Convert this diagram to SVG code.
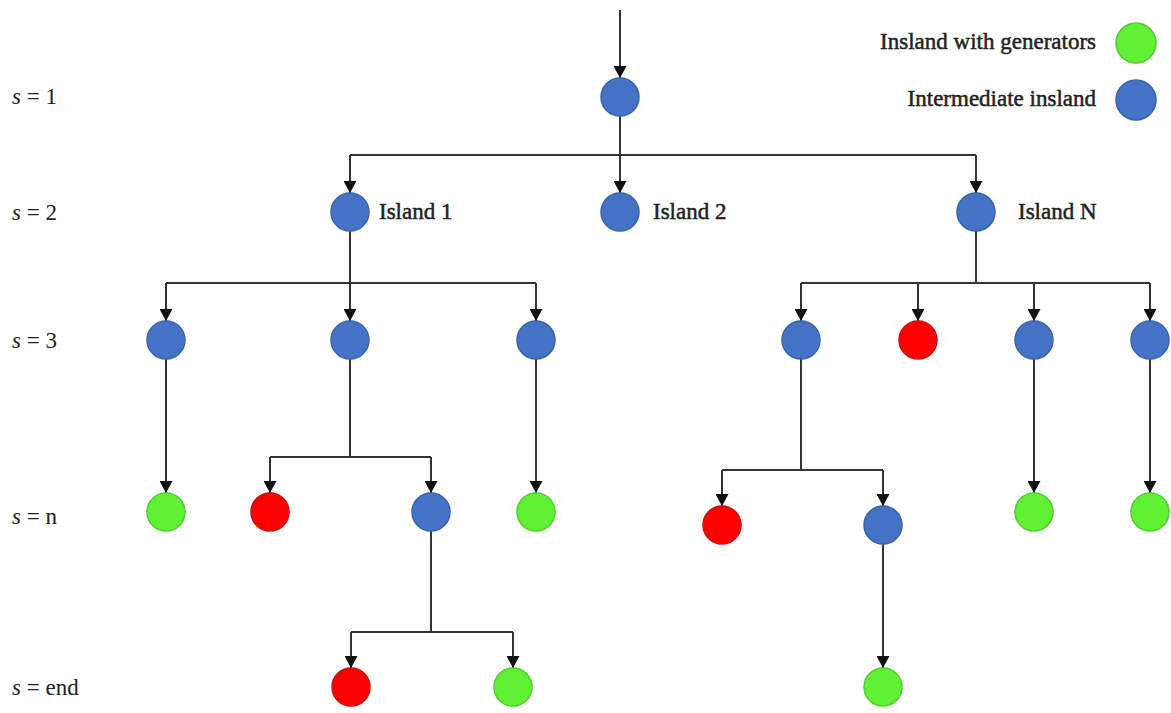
<svg xmlns="http://www.w3.org/2000/svg" width="1171" height="713" viewBox="0 0 1171 713">
<defs>
<style>
.b{fill:#4472C4;stroke:#3a62ad;stroke-width:1.5}
.g{fill:#60f034;stroke:#52cc30;stroke-width:1.5}
.r{fill:#ff0000;stroke:#cc1010;stroke-width:1.5}
.t{font-family:"Liberation Serif","Times New Roman",serif;font-size:23px;fill:#222}
.k{stroke:#222;stroke-width:0.5}
.e{stroke:#333;stroke-width:2;fill:none}
.a{marker-end:url(#arr)}
</style>
<marker id="arr" markerUnits="userSpaceOnUse" markerWidth="13" markerHeight="13" refX="12" refY="6.5" orient="auto" viewBox="0 0 13 13">
<path d="M0,0 L12,6.5 L0,13 z" fill="#111"/>
</marker>
</defs>
<rect width="1171" height="713" fill="#fff"/>

<g id="levels" class="t">
<text x="12" y="104"><tspan font-style="italic">s</tspan> = 1</text>
<text x="12" y="220"><tspan font-style="italic">s</tspan> = 2</text>
<text x="12" y="348"><tspan font-style="italic">s</tspan> = 3</text>
<text x="12" y="524"><tspan font-style="italic">s</tspan> = n</text>
<text x="12" y="695"><tspan font-style="italic">s</tspan> = end</text>
</g>

<g id="legend">
<text class="t k" x="1096" y="49" text-anchor="end">Insland with generators</text>
<circle class="g" cx="1136" cy="43" r="20"/>
<text class="t k" x="1096" y="106" text-anchor="end">Intermediate insland</text>
<circle class="b" cx="1136" cy="100" r="20"/>
</g>

<g id="connectors">
<path class="e a" d="M620,10 V78"/>
<path class="e" d="M620,116 V155 M350,155 H976"/>
<path class="e a" d="M620,155 V193"/>
<path class="e a" d="M350,155 V193"/>
<path class="e a" d="M976,155 V193"/>

<path class="e" d="M350,231 V283 M166,283 H536"/>
<path class="e a" d="M166,283 V321"/>
<path class="e a" d="M350,283 V321"/>
<path class="e a" d="M536,283 V321"/>

<path class="e" d="M976,231 V283 M801,283 H1150"/>
<path class="e a" d="M801,283 V321"/>
<path class="e a" d="M918,283 V321"/>
<path class="e a" d="M1034,283 V321"/>
<path class="e a" d="M1150,283 V321"/>

<path class="e a" d="M166,359 V493"/>
<path class="e a" d="M536,359 V493"/>
<path class="e" d="M350,359 V457 M270,457 H431"/>
<path class="e a" d="M270,457 V493"/>
<path class="e a" d="M431,457 V493"/>

<path class="e" d="M801,359 V470 M722,470 H883"/>
<path class="e a" d="M722,470 V506"/>
<path class="e a" d="M883,470 V506"/>
<path class="e a" d="M1034,359 V493"/>
<path class="e a" d="M1150,359 V493"/>

<path class="e" d="M431,531 V632 M351,632 H513"/>
<path class="e a" d="M351,632 V668"/>
<path class="e a" d="M513,632 V668"/>
<path class="e a" d="M883,544 V668"/>
</g>

<g id="n-root"><circle class="b" cx="620" cy="97" r="19"/></g>
<g id="n-island1"><circle class="b" cx="350" cy="212" r="19"/><text class="t k" x="379" y="219">Island 1</text></g>
<g id="n-island2"><circle class="b" cx="620" cy="212" r="19"/><text class="t k" x="653" y="219">Island 2</text></g>
<g id="n-islandN"><circle class="b" cx="976" cy="212" r="19"/><text class="t k" x="1018" y="219">Island N</text></g>

<g id="n-3a"><circle class="b" cx="166" cy="340" r="19"/></g>
<g id="n-3b"><circle class="b" cx="350" cy="340" r="19"/></g>
<g id="n-3c"><circle class="b" cx="536" cy="340" r="19"/></g>
<g id="n-3d"><circle class="b" cx="801" cy="340" r="19"/></g>
<g id="n-3e"><circle class="r" cx="918" cy="340" r="19"/></g>
<g id="n-3f"><circle class="b" cx="1034" cy="340" r="19"/></g>
<g id="n-3g"><circle class="b" cx="1150" cy="340" r="19"/></g>

<g id="n-na"><circle class="g" cx="166" cy="512" r="19"/></g>
<g id="n-nb"><circle class="r" cx="270" cy="512" r="19"/></g>
<g id="n-nc"><circle class="b" cx="431" cy="512" r="19"/></g>
<g id="n-nd"><circle class="g" cx="536" cy="512" r="19"/></g>
<g id="n-ne"><circle class="r" cx="722" cy="525" r="19"/></g>
<g id="n-nf"><circle class="b" cx="883" cy="525" r="19"/></g>
<g id="n-ng"><circle class="g" cx="1034" cy="512" r="19"/></g>
<g id="n-nh"><circle class="g" cx="1150" cy="512" r="19"/></g>

<g id="n-ea"><circle class="r" cx="351" cy="687" r="19"/></g>
<g id="n-eb"><circle class="g" cx="513" cy="687" r="19"/></g>
<g id="n-ec"><circle class="g" cx="883" cy="687" r="19"/></g>
</svg>
